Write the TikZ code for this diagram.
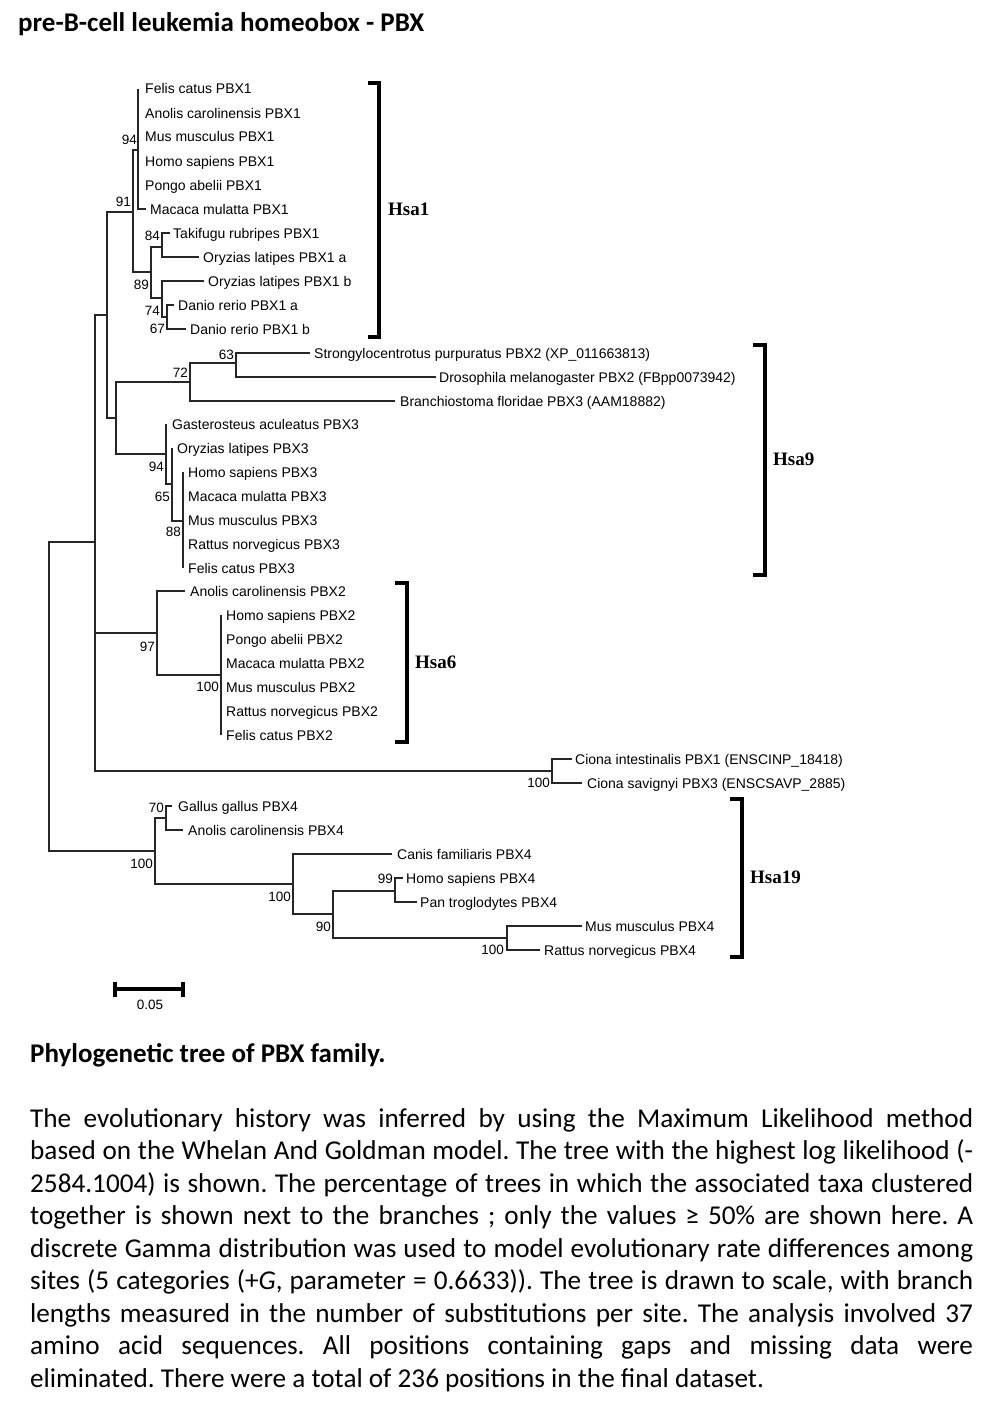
\documentclass[tikz,border=0pt]{standalone}
\usepackage{fontspec}
\setmainfont{Carlito}
\newfontfamily\treefont{Liberation Sans}
\newfontfamily\hsafont{Liberation Serif}
\newcommand\mkleaf[5]{\coordinate (#1-t) at (#2,#4); \node[leaf] (#1) at (#3,#4) {#5};}
\frenchspacing
\begin{document}
\begin{tikzpicture}[x=1pt,y=-1pt,
  br/.style={line width=1.2pt, draw=black!85},
  leaf/.style={anchor=west, inner sep=0pt, font=\treefont\fontsize{14}{15}\selectfont, text height=10pt, text depth=0pt},
  boot/.style={anchor=east, inner sep=0pt, font=\treefont\fontsize{13.5}{14}\selectfont, text height=9.7pt, text depth=0pt},
  brk/.style={line width=3.6pt, draw=black},
  hsa/.style={anchor=west, inner sep=0pt, font=\hsafont\bfseries\fontsize{19}{20}\selectfont, text height=12.6pt, text depth=0pt},
  body/.style={anchor=base west, inner sep=0pt, font=\fontsize{27.2}{32.5}\selectfont},
  head/.style={anchor=base west, inner sep=0pt, font=\bfseries\fontsize{27}{32.5}\selectfont},
]
\fill[white] (0,0) rectangle (991,1410);
\useasboundingbox (0,0) rectangle (991,1410);

% internal nodes
\coordinate (R) at (49,696);
\coordinate (A) at (95,542);
\coordinate (B) at (107,315);
\coordinate (H1) at (133,212);
\coordinate (N94) at (138,150);
\coordinate (N89) at (151,272);
\coordinate (N84) at (162,247);
\coordinate (Nb) at (162,298);
\coordinate (ND) at (167,317);
\coordinate (H9) at (116,418);
\coordinate (N72) at (190,382);
\coordinate (N63) at (236,363);
\coordinate (N94b) at (166,454);
\coordinate (N65) at (172,484);
\coordinate (N88) at (183,521);
\coordinate (P2) at (157,633);
\coordinate (N100b) at (221,675);
\coordinate (C) at (552,771);
\coordinate (P4) at (155,851);
\coordinate (N70) at (166,818);
\coordinate (N100c) at (293,884);
\coordinate (N90) at (333,914);
\coordinate (N99) at (395,891);
\coordinate (N100d) at (507,938);

% leaves
\mkleaf{fc1}{138}{145}{89}{Felis catus PBX1}
\mkleaf{ac1}{138}{145}{113}{Anolis carolinensis PBX1}
\mkleaf{mm1}{138}{145}{137}{Mus musculus PBX1}
\mkleaf{hs1}{138}{145}{161}{Homo sapiens PBX1}
\mkleaf{pa1}{138}{145}{185}{Pongo abelii PBX1}
\mkleaf{mc1}{146}{150}{209}{Macaca mulatta PBX1}
\mkleaf{tr1}{170}{173}{233}{Takifugu rubripes PBX1}
\mkleaf{ola}{199}{203}{257}{Oryzias latipes PBX1 a}
\mkleaf{olb}{204}{208}{281}{Oryzias latipes PBX1 b}
\mkleaf{dra}{174}{178}{305}{Danio rerio PBX1 a}
\mkleaf{drb}{186}{190}{329}{Danio rerio PBX1 b}
\mkleaf{sp}{310}{314}{353}{Strongylocentrotus purpuratus PBX2 (XP\_011663813)}
\mkleaf{dm}{436}{439}{377}{Drosophila melanogaster PBX2 (FBpp0073942)}
\mkleaf{bf}{395}{400}{401}{Branchiostoma floridae PBX3 (AAM18882)}
\mkleaf{ga3}{166}{172}{424}{Gasterosteus aculeatus PBX3}
\mkleaf{ol3}{172}{177}{448}{Oryzias latipes PBX3}
\mkleaf{hs3}{183}{188}{472}{Homo sapiens PBX3}
\mkleaf{mc3}{183}{188}{496}{Macaca mulatta PBX3}
\mkleaf{mm3}{183}{188}{520}{Mus musculus PBX3}
\mkleaf{rn3}{183}{188}{544}{Rattus norvegicus PBX3}
\mkleaf{fc3}{183}{188}{568}{Felis catus PBX3}
\mkleaf{ac2}{185}{190}{591}{Anolis carolinensis PBX2}
\mkleaf{hs2}{221}{226}{615}{Homo sapiens PBX2}
\mkleaf{pa2}{221}{226}{639}{Pongo abelii PBX2}
\mkleaf{mc2}{221}{226}{663}{Macaca mulatta PBX2}
\mkleaf{mm2}{221}{226}{687}{Mus musculus PBX2}
\mkleaf{rn2}{221}{226}{711}{Rattus norvegicus PBX2}
\mkleaf{fc2}{221}{226}{735}{Felis catus PBX2}
\mkleaf{ci}{572}{575}{759}{Ciona intestinalis PBX1 (ENSCINP\_18418)}
\mkleaf{cs}{582}{587}{783}{Ciona savignyi PBX3 (ENSCSAVP\_2885)}
\mkleaf{gg4}{172}{178}{806}{Gallus gallus PBX4}
\mkleaf{ac4}{183}{188}{830}{Anolis carolinensis PBX4}
\mkleaf{cf4}{392}{397}{854}{Canis familiaris PBX4}
\mkleaf{hs4}{403}{406}{878}{Homo sapiens PBX4}
\mkleaf{pt4}{417}{420}{902}{Pan troglodytes PBX4}
\mkleaf{mm4}{582}{585}{926}{Mus musculus PBX4}
\mkleaf{rn4}{540}{544}{950}{Rattus norvegicus PBX4}

% branches
\draw[br] (R) |- (A);
\draw[br] (R) |- (P4);
\draw[br] (A) |- (B);
\draw[br] (A) |- (P2);
\draw[br] (A) |- (C);
\draw[br] (B) |- (H1);
\draw[br] (B) |- (H9);
\draw[br] (H1) |- (N94);
\draw[br] (H1) |- (N89);
\foreach \l in {fc1,ac1,mm1,hs1,pa1,mc1} \draw[br] (N94) |- (\l-t);
\draw[br] (N89) |- (N84);
\draw[br] (N89) |- (Nb);
\draw[br] (N84) |- (tr1-t);
\draw[br] (N84) |- (ola-t);
\draw[br] (Nb) |- (olb-t);
\draw[br] (Nb) |- (ND);
\draw[br] (ND) |- (dra-t);
\draw[br] (ND) |- (drb-t);
\draw[br] (H9) |- (N72);
\draw[br] (H9) |- (N94b);
\draw[br] (N72) |- (N63);
\draw[br] (N72) |- (bf-t);
\draw[br] (N63) |- (sp-t);
\draw[br] (N63) |- (dm-t);
\draw[br] (N94b) |- (ga3-t);
\draw[br] (N94b) |- (N65);
\draw[br] (N65) |- (ol3-t);
\draw[br] (N65) |- (N88);
\foreach \l in {hs3,mc3,mm3,rn3,fc3} \draw[br] (N88) |- (\l-t);
\draw[br] (P2) |- (ac2-t);
\draw[br] (P2) |- (N100b);
\foreach \l in {hs2,pa2,mc2,mm2,rn2,fc2} \draw[br] (N100b) |- (\l-t);
\draw[br] (C) |- (ci-t);
\draw[br] (C) |- (cs-t);
\draw[br] (P4) |- (N70);
\draw[br] (P4) |- (N100c);
\draw[br] (N70) |- (gg4-t);
\draw[br] (N70) |- (ac4-t);
\draw[br] (N100c) |- (cf4-t);
\draw[br] (N100c) |- (N90);
\draw[br] (N90) |- (N99);
\draw[br] (N90) |- (N100d);
\draw[br] (N99) |- (hs4-t);
\draw[br] (N99) |- (pt4-t);
\draw[br] (N100d) |- (mm4-t);
\draw[br] (N100d) |- (rn4-t);

% bootstrap values
\node[boot] (b1) at (137,140) {94};
\node[boot] (b2) at (131,202) {91};
\node[boot] (b3) at (160,236) {84};
\node[boot] (b4) at (149,285) {89};
\node[boot] (b5) at (160,311) {74};
\node[boot] (b6) at (165,329) {67};
\node[boot] (b7) at (234,355) {63};
\node[boot] (b8) at (188,373) {72};
\node[boot] (b9) at (164,467) {94};
\node[boot] (b10) at (170,497) {65};
\node[boot] (b11) at (181,532) {88};
\node[boot] (b12) at (155,647) {97};
\node[boot] (b13) at (219,687) {100};
\node[boot] (b14) at (550,783) {100};
\node[boot] (b15) at (164,808) {70};
\node[boot] (b16) at (153,864) {100};
\node[boot] (b17) at (291,897) {100};
\node[boot] (b18) at (331,927) {90};
\node[boot] (b19) at (393,879) {99};
\node[boot] (b20) at (504,950) {100};

% brackets
\draw[brk] (368,83) -- (379,83) -- (379,337) -- (368,337);
\node[hsa] (hsa1) at (388,209) {Hsa1};
\draw[brk] (753,345) -- (765,345) -- (765,575) -- (753,575);
\node[hsa] (hsa9) at (773,459) {Hsa9};
\draw[brk] (395,583) -- (407,583) -- (407,742) -- (395,742);
\node[hsa] (hsa6) at (415,662) {Hsa6};
\draw[brk] (730,799) -- (742,799) -- (742,957) -- (730,957);
\node[hsa] (hsa19) at (750,877) {Hsa19};

% scale bar
\draw[line width=4pt] (113,989) -- (185,989);
\draw[line width=3.6pt] (114.8,981.5) -- (114.8,997);
\draw[line width=3.6pt] (183.2,981.5) -- (183.2,997);
\node[inner sep=0pt, font=\treefont\fontsize{13.5}{14}\selectfont, text height=9.7pt, text depth=0pt] (sc) at (150,1005) {0.05};

% texts
\node[head] (title) at (18,31.7) {pre-B-cell leukemia homeobox - PBX};
\node[head] (cap) at (30,1062) {Phylogenetic tree of PBX family.};
\node[body] (c1) at (30,1127) {\makebox[943pt][s]{The evolutionary history was inferred by using the Maximum Likelihood method}};
\node[body] (c2) at (30,1159.5) {\makebox[943pt][s]{based on the Whelan And Goldman model. The tree with the highest log likelihood (-}};
\node[body] (c3) at (30,1192) {\makebox[943pt][s]{2584.1004) is shown. The percentage of trees in which the associated taxa clustered}};
\node[body] (c4) at (30,1224.5) {\makebox[943pt][s]{together is shown next to the branches ; only the values ≥ 50\% are shown here. A}};
\node[body] (c5) at (30,1257) {\makebox[943pt][s]{discrete Gamma distribution was used to model evolutionary rate differences among}};
\node[body] (c6) at (30,1289.5) {\makebox[943pt][s]{sites (5 categories (+\textit{G}, parameter = 0.6633)). The tree is drawn to scale, with branch}};
\node[body] (c7) at (30,1322) {\makebox[943pt][s]{lengths measured in the number of substitutions per site. The analysis involved 37}};
\node[body] (c8) at (30,1354.5) {\makebox[943pt][s]{amino acid sequences. All positions containing gaps and missing data were}};
\node[body] (c9) at (30,1387) {eliminated. There were a total of 236 positions in the final dataset.};
\end{tikzpicture}
\end{document}
